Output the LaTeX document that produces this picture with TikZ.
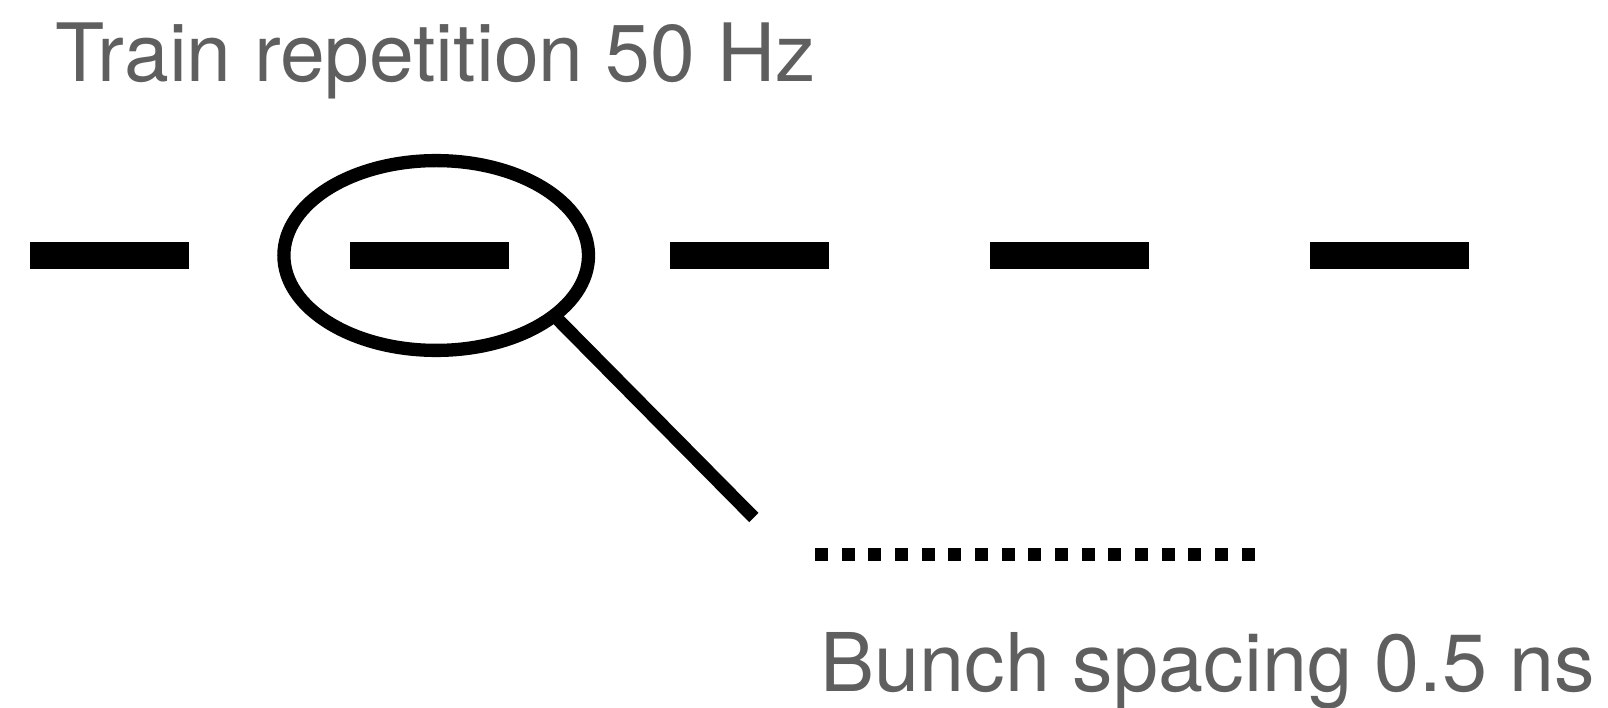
\documentclass[tikz,border=0pt]{standalone}
\usepackage{fontspec}
\setmainfont{TeX Gyre Heros}
\usetikzlibrary{shapes.geometric}
\definecolor{labelgray}{RGB}{95,95,95}
\begin{document}
\begin{tikzpicture}[x=1pt,y=-1pt,
  train/.style={rectangle, fill=black, draw=none, inner sep=0pt, outer sep=0pt,
                minimum width=159pt, minimum height=26.4pt},
  lensstyle/.style={ellipse, draw=black, line width=13.3pt, inner sep=0pt, outer sep=0pt,
                minimum width=304.6pt, minimum height=189.8pt},
  handlestyle/.style={draw=black, line width=13pt, line cap=butt},
  bunchrow/.style={draw=black, line width=13pt, line cap=butt,
                dash pattern=on 13pt off 13.67pt},
  caption/.style={anchor=base west, inner sep=0pt, outer sep=0pt, text=labelgray,
                font=\fontsize{80}{96}\selectfont}]
  \useasboundingbox (0,0) rectangle (1608,708);

  % repetition label
  \node[caption, font=\fontsize{80.5}{96}\selectfont] (rep) at (55.9,81.7) {Train repetition 50 Hz};

  % bunch trains
  \node[train] (t1) at (109.8,255.5) {};
  \node[train] (t2) at (429.8,255.5) {};
  \node[train] (t3) at (749.8,255.5) {};
  \node[train] (t4) at (1069.8,255.5) {};
  \node[train] (t5) at (1389.8,255.5) {};

  % magnifier round the second train
  \node[lensstyle] (lens) at (436.2,255.5) {};
  \coordinate (handleend) at (753.8,517.5);
  \draw[handlestyle] (lens.-27.6) -- (handleend);

  % individual bunches of one train
  \coordinate (bunchstart) at (815,554.2);
  \coordinate (bunchend) at (1254.7,554.2);
  \draw[bunchrow] (bunchstart) -- (bunchend);

  % spacing label
  \node[caption, font=\fontsize{81}{96}\selectfont] (spacing) at (820.8,691.7) {Bunch spacing 0.5 ns};
\end{tikzpicture}
\end{document}
